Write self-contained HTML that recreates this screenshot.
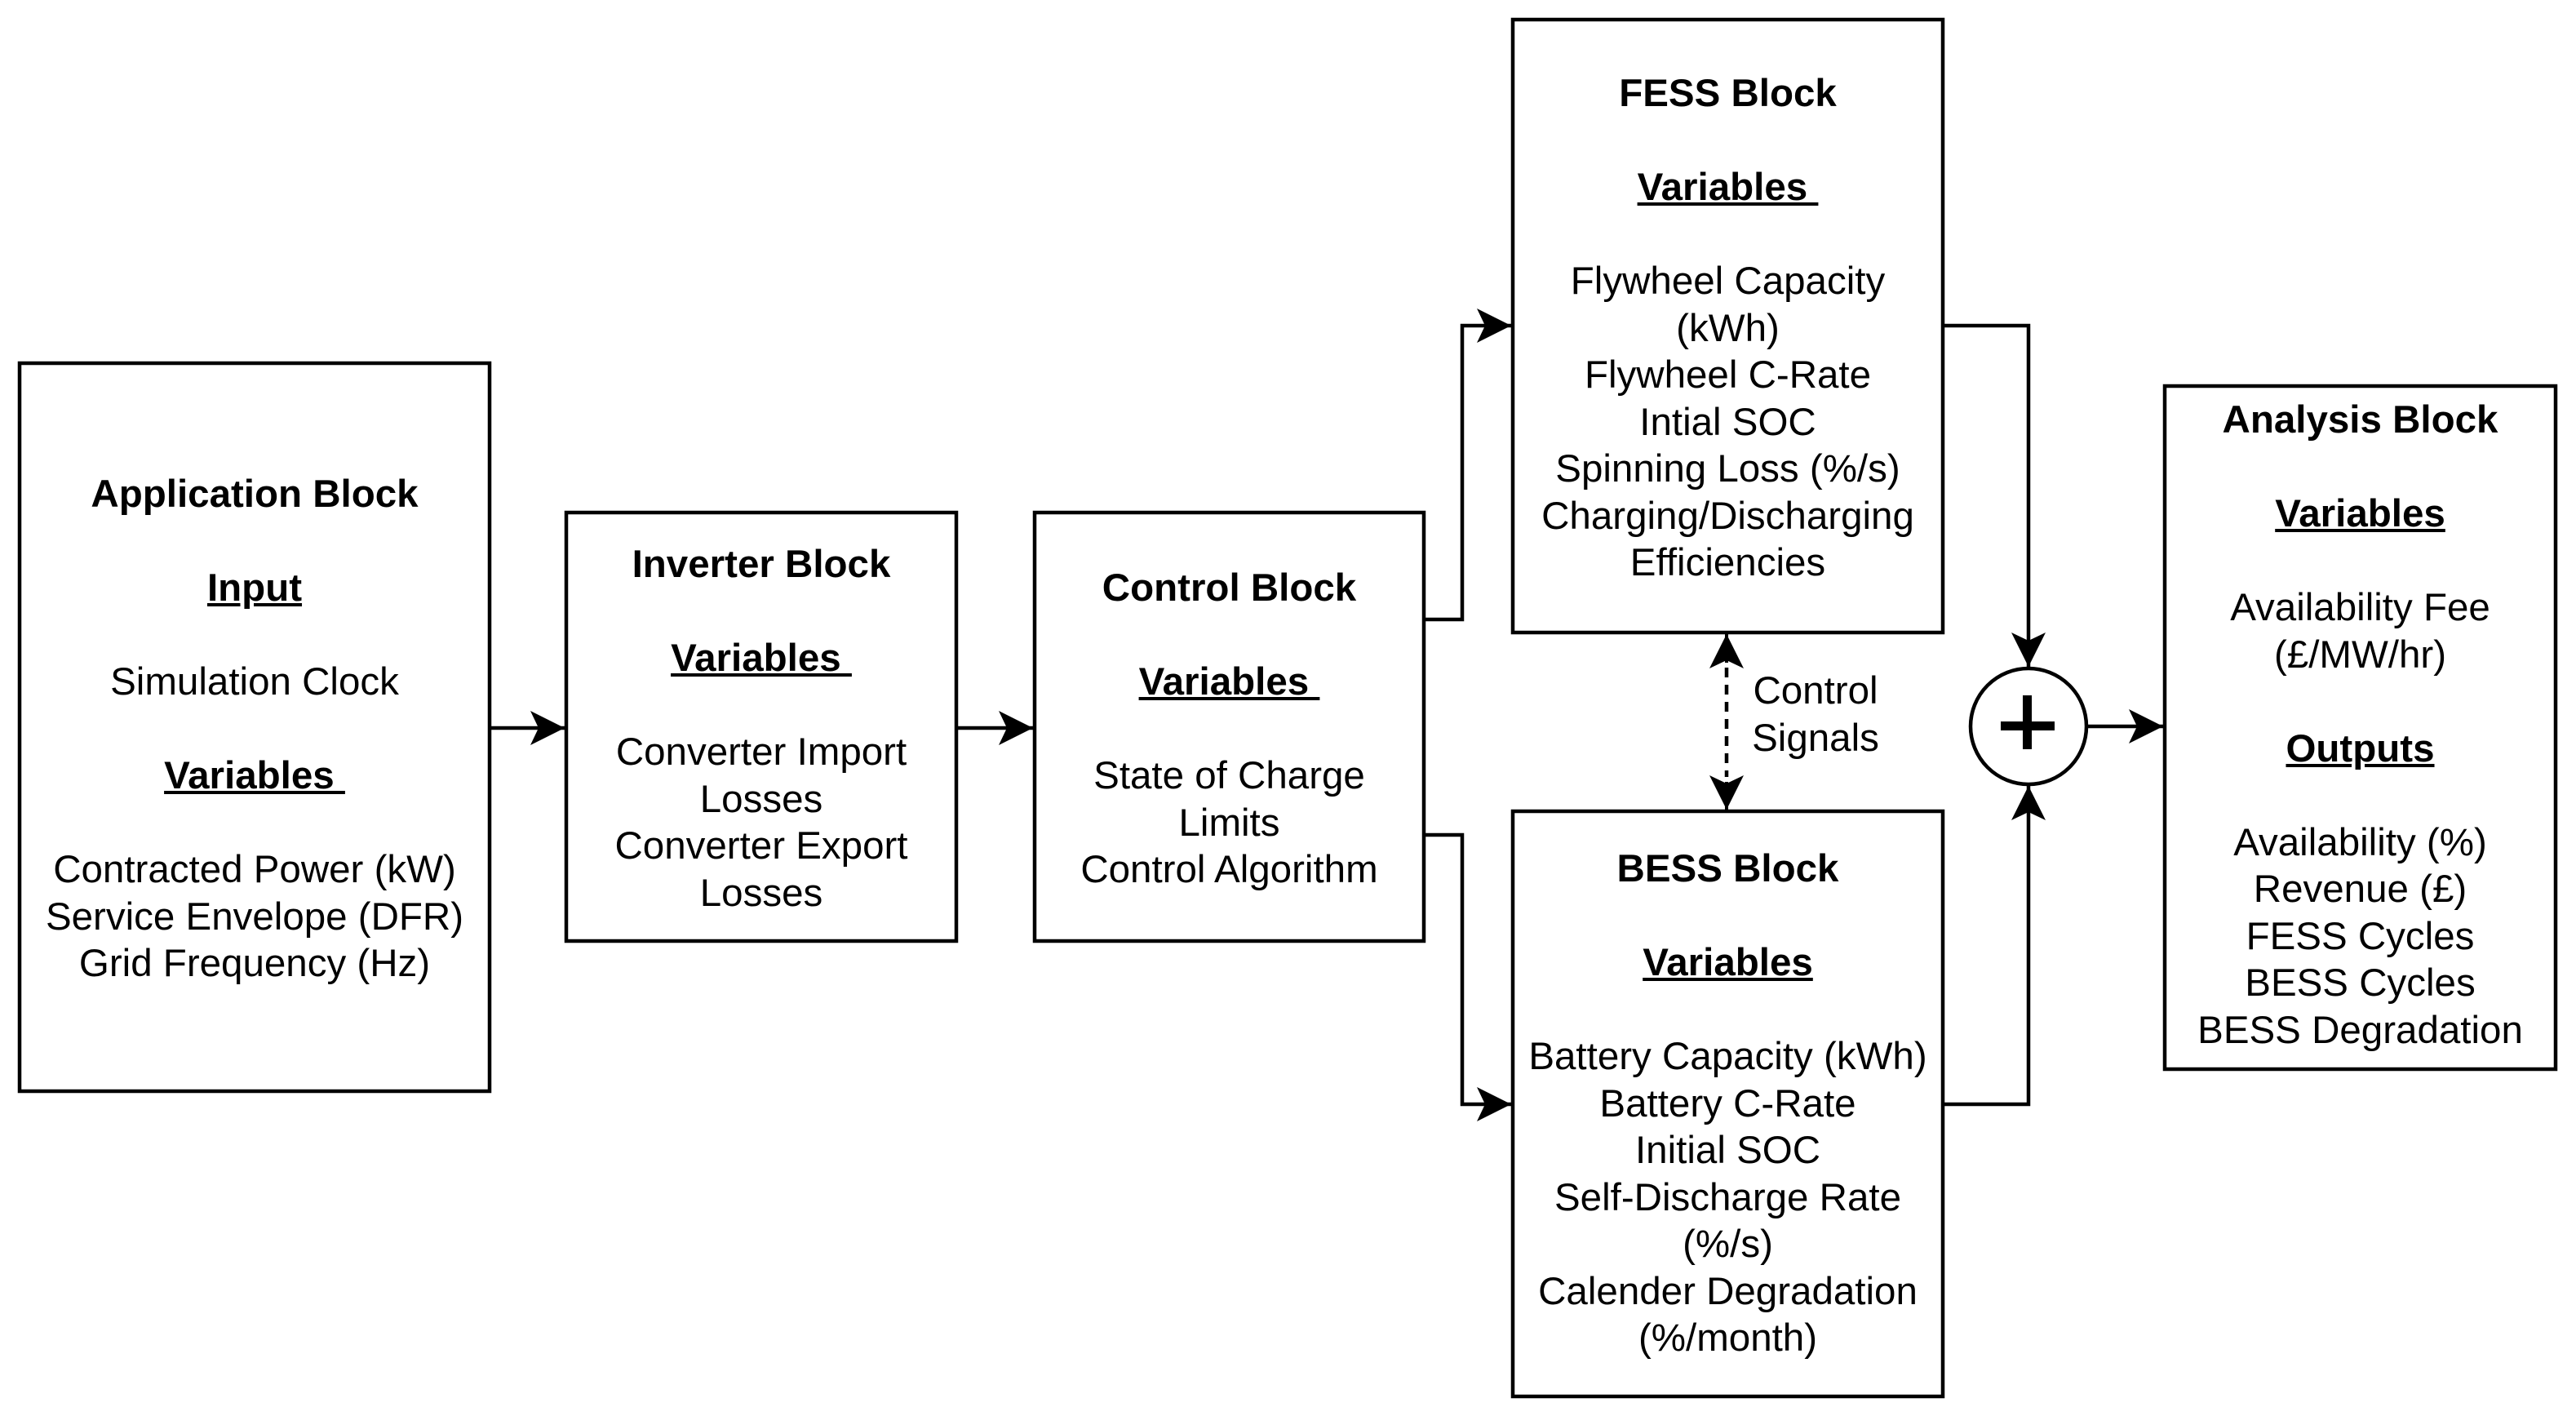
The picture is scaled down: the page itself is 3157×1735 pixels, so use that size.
<!DOCTYPE html>
<html><head><meta charset="utf-8"><style>
html,body{margin:0;padding:0;background:#fff;}
body{width:3157px;height:1735px;position:relative;overflow:hidden;font-family:"Liberation Sans",Arial,sans-serif;color:#000;}
.t{position:absolute;text-align:center;font-size:47.5px;line-height:57.5px;white-space:pre;}
</style></head><body>
<svg width="3157" height="1735" style="position:absolute;left:0;top:0">
<defs>
<marker id="a" markerUnits="userSpaceOnUse" markerWidth="46" markerHeight="46" refX="42" refY="21" orient="auto">
<path d="M0,0 L42,21 L0,42 L10,21 Z" fill="#000"/>
</marker>
</defs>
<g fill="none" stroke="#000" stroke-width="4.5">
<rect x="24" y="445" width="576" height="892"/>
<rect x="694" y="628" width="478" height="525"/>
<rect x="1268" y="628" width="477" height="525"/>
<rect x="1854" y="24" width="527" height="751"/>
<rect x="1854" y="994" width="527" height="717"/>
<rect x="2653" y="473" width="479" height="837"/>
<circle cx="2486" cy="890" r="71"/>
<path d="M600,892 H692" marker-end="url(#a)"/>
<path d="M1172,892 H1266" marker-end="url(#a)"/>
<path d="M1745,759 H1792 V399 H1852" marker-end="url(#a)"/>
<path d="M1745,1023 H1792 V1353 H1852" marker-end="url(#a)"/>
<path d="M2381,399 H2486 V817" marker-end="url(#a)"/>
<path d="M2381,1353 H2486 V963" marker-end="url(#a)"/>
<path d="M2558,890 H2651" marker-end="url(#a)"/>
<path d="M2116,818 V952" stroke-dasharray="12,9"/>
</g>
<g fill="none" stroke="#000" stroke-width="4">
<path d="M2116,812 V777" marker-end="url(#a)"/>
<path d="M2116,958 V992" marker-end="url(#a)"/>
</g>
<rect x="2452" y="884" width="66" height="11" fill="#000"/>
<rect x="2479" y="852" width="11" height="66" fill="#000"/>
</svg>
<div class="t" style="left:24px;width:576px;top:577px"><b>Application Block</b>

<b><u>Input</u></b>

Simulation Clock

<b><u>Variables&nbsp;</u></b>

Contracted Power (kW)
Service Envelope (DFR)
Grid Frequency (Hz)</div>
<div class="t" style="left:694px;width:478px;top:663px"><b>Inverter Block</b>

<b><u>Variables&nbsp;</u></b>

Converter Import
Losses
Converter Export
Losses</div>
<div class="t" style="left:1268px;width:477px;top:692px"><b>Control Block</b>

<b><u>Variables&nbsp;</u></b>

State of Charge
Limits
Control Algorithm</div>
<div class="t" style="left:1854px;width:527px;top:86px"><b>FESS Block</b>

<b><u>Variables&nbsp;</u></b>

Flywheel Capacity
(kWh)
Flywheel C-Rate
Intial SOC
Spinning Loss (%/s)
Charging/Discharging
Efficiencies</div>
<div class="t" style="left:1854px;width:527px;top:1036px"><b>BESS Block</b>

<b><u>Variables</u></b>

Battery Capacity (kWh)
Battery C-Rate
Initial SOC
Self-Discharge Rate
(%/s)
Calender Degradation
(%/month)</div>
<div class="t" style="left:2653px;width:479px;top:486px"><b>Analysis Block</b>

<b><u>Variables</u></b>

Availability Fee
(£/MW/hr)

<b><u>Outputs</u></b>

Availability (%)
Revenue (£)
FESS Cycles
BESS Cycles
BESS Degradation</div>
<div class="t" style="left:2135px;width:180px;top:818px">Control
Signals</div>
</body></html>
